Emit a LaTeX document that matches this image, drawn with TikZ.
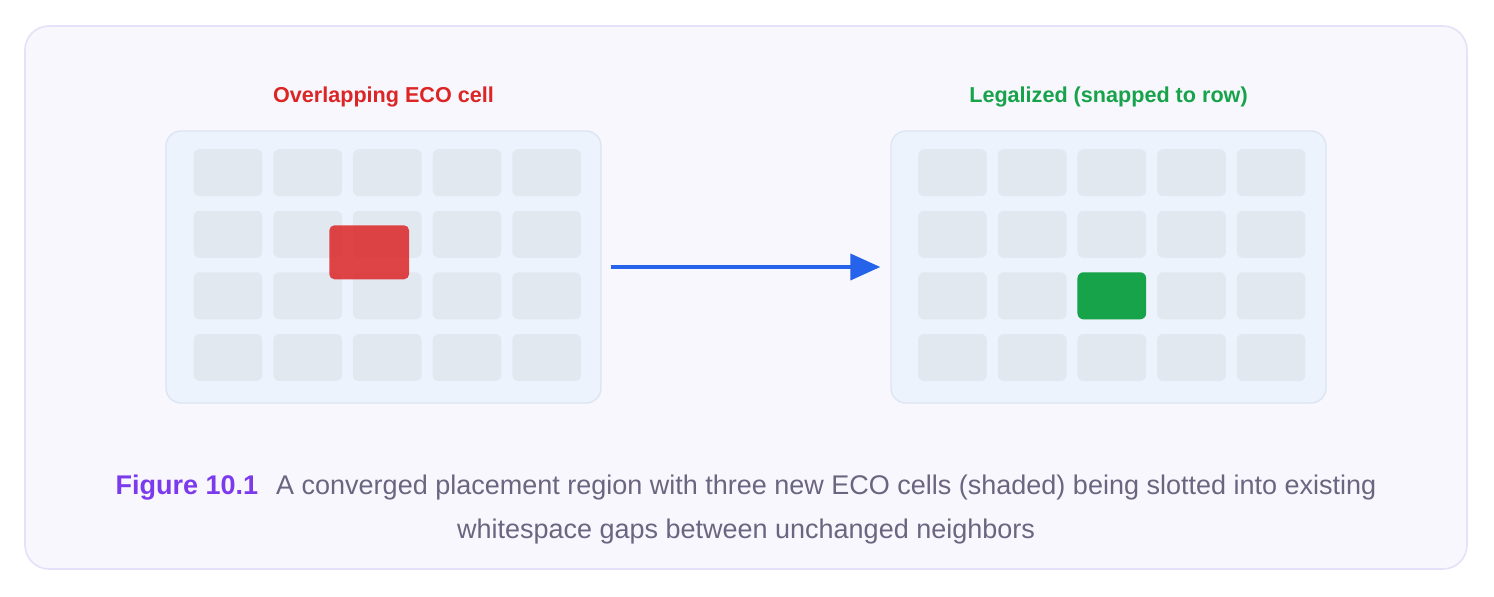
\documentclass[tikz,border=0pt]{standalone}
\usepackage{fontspec}
\setmainfont{Liberation Sans}
\usetikzlibrary{arrows.meta}
\definecolor{framefill}{HTML}{F8F7FE}
\definecolor{framedraw}{HTML}{E6E0F8}
\definecolor{panelfill}{HTML}{EDF3FC}
\definecolor{paneldraw}{HTML}{DCE5F2}
\definecolor{cellfill}{HTML}{E1E8F0}
\definecolor{ecored}{HTML}{DC2626}
\definecolor{ecogreen}{HTML}{16A34A}
\definecolor{arrowblue}{HTML}{2563EB}
\definecolor{figpurple}{HTML}{7C3AED}
\definecolor{capgray}{HTML}{6B6580}
\begin{document}
\begin{tikzpicture}[x=1pt,y=-1pt,
  outerframe/.style={draw=framedraw, fill=framefill, line width=1.6pt, rounded corners=24pt, inner sep=0pt, minimum width=1442pt, minimum height=543pt},
  panel/.style={draw=paneldraw, fill=panelfill, line width=1.4pt, rounded corners=15pt, inner sep=0pt, minimum width=435pt, minimum height=272pt},
  cell/.style={fill=cellfill, rounded corners=6pt, inner sep=0pt, minimum width=68.7pt, minimum height=47pt},
  redcell/.style={fill=ecored, fill opacity=0.85, rounded corners=5pt, inner sep=0pt, minimum width=79.7pt, minimum height=54pt},
  greencell/.style={fill=ecogreen, rounded corners=6pt, inner sep=0pt, minimum width=68.7pt, minimum height=47pt},
  paneltitle/.style={anchor=base, inner sep=0pt, font=\fontsize{21.6}{26}\selectfont\bfseries},
  captext/.style={anchor=base, inner sep=0pt, text=capgray, font=\fontsize{27}{32}\selectfont},
  movearrow/.style={draw=arrowblue, line width=4pt, -{Triangle[length=30pt,width=26pt]}}
]
\useasboundingbox (0,0) rectangle (1494,597);
\fill[white] (0,0) rectangle (1494,597);
\node[outerframe] (frame) at (746,297.5) {};
% panels
\node[panel] (lp) at (383.5,267) {};
\node[panel] (rp) at (1108.5,267) {};
% cells
\foreach \c [count=\i] in {228.0,307.7,387.3,467.0,546.6}{
  \foreach \r [count=\j] in {172.7,234.3,295.8,357.5}{
    \node[cell] (L-\i-\j) at (\c,\r) {};
    \node[cell] (R-\i-\j) at (\c+724.5,\r) {};
  }
}
\node[redcell] (Lnew) at (369.2,252.3) {};
\node[greencell] (Rnew) at (R-3-3) {};
% titles
\node[paneltitle, text=ecored] (lt) at (383.5,102.3) {Overlapping ECO cell};
\node[paneltitle, text=ecogreen] (rt) at (1108.5,102.3) {Legalized (snapped to row)};
% arrow
\draw[movearrow] ([xshift=9pt]lp.east) -- ([xshift=-10pt]rp.west);
% caption
\node[captext] (cap1) at (746,494.3) {\textcolor{figpurple}{\bfseries Figure 10.1}\hspace{18pt}A converged placement region with three new ECO cells (shaded) being slotted into existing};
\node[captext] (cap2) at (746,538.3) {whitespace gaps between unchanged neighbors};
\end{tikzpicture}
\end{document}
